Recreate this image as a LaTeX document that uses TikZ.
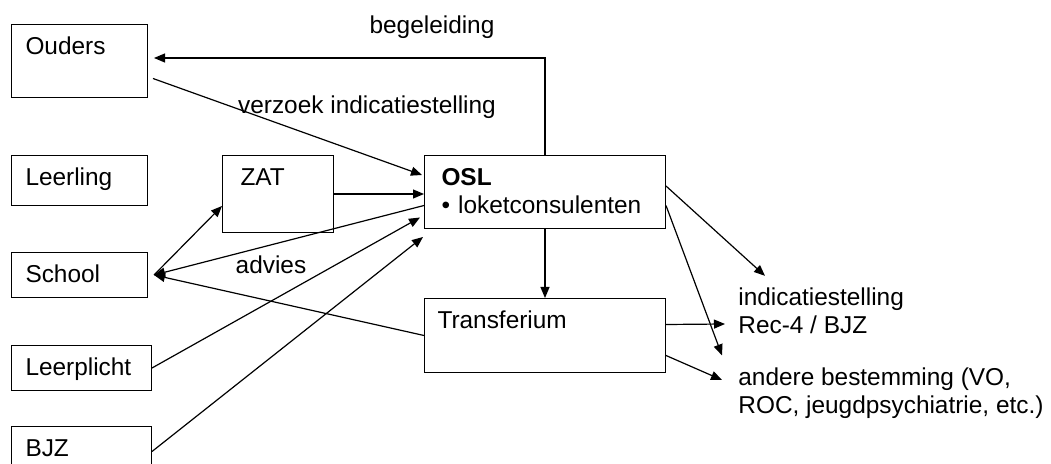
\documentclass[tikz,border=0pt]{standalone}
\usepackage{fontspec}
\setmainfont{Liberation Sans}
\usetikzlibrary{arrows.meta}

\tikzset{
  box/.style={draw, line width=0.5pt, anchor=north west, align=left,
    inner xsep=7pt, inner ysep=6pt, text height=9pt},
  lbl/.style={inner sep=0pt, align=left},
  arr/.style={line width=0.6pt, -{Triangle[length=5.5pt,width=4.5pt]}},
}

\begin{document}
\begin{tikzpicture}[x=1pt,y=1pt,font=\fontsize{12.2}{13.8}\selectfont]
\useasboundingbox (0,0) rectangle (525.5,-232);

% boxes on the left
\node[box, text width=54pt, text depth=15.5pt] (ouders) at (5.5,-12) {Ouders};
\node[box, text width=54pt, text depth=4pt] (leerling) at (5.5,-77.5) {Leerling};
\node[box, text width=54pt, text depth=1.5pt] (school) at (5.5,-126) {School};
\node[box, text width=56pt, text depth=1.5pt] (leerplicht) at (5.5,-172.5) {Leerplicht};
\node[box, text width=56pt, text depth=4pt] (bjz) at (5.5,-213) {BJZ};

% middle
\node[box, inner xsep=9pt, text width=37.5pt, text depth=17.5pt] (zat) at (111,-77.5) {ZAT};
\node[box, inner xsep=8.5pt, text width=103.5pt, text depth=15.5pt] (osl) at (212,-77.5) {{\bfseries OSL}\\ \textbullet{} loketconsulenten};
\node[box, inner xsep=6.5pt, text width=107.5pt, text depth=16pt] (transferium) at (212,-149) {Transferium};

% texts
\node[lbl] (begeleiding) at (216,-13.5) {begeleiding};
\node[lbl] (verzoek) at (183.5,-53.5) {verzoek indicatiestelling};
\node[lbl] (advies) at (135.5,-132.5) {advies};
\node[lbl, anchor=west] (ind) at (369,-155.5) {indicatiestelling\\Rec-4 / BJZ};
\node[lbl, anchor=west] (andere) at (369,-196.5) {andere bestemming (VO,\\ROC, jeugdpsychiatrie, etc.)};

\coordinate (ind-a) at ([xshift=13.5pt,yshift=6pt]ind.north west);
\coordinate (ind-b) at (362.5,-162);
\coordinate (andere-a) at ([xshift=-8pt,yshift=6pt]andere.north west);
\coordinate (andere-b) at ([xshift=-8pt,yshift=6.5pt]andere.west);

\draw[arr] (osl.north) |- ([xshift=3pt,yshift=1.5pt]ouders.east);
\draw[arr] ([xshift=2.5pt,yshift=-8.75pt]ouders.east) -- ([xshift=-1pt,yshift=8.5pt]osl.west);
\draw[arr] (zat.east) -- (zat.east -| osl.west);
\draw[arr] ([yshift=-6.75pt]osl.west) -- ([xshift=3pt]school.east);
\draw[arr] ([xshift=3pt]school.east) -- ([yshift=-6pt]zat.west);
\draw[arr] (leerplicht.east) -- ([xshift=-2pt,yshift=-12.75pt]osl.west);
\draw[arr] (bjz.east) -- ([xshift=-0.5pt,yshift=-4pt]osl.south west);
\draw[arr] (transferium.west) -- ([xshift=3pt]school.east);
\draw[arr] (osl.south) -- (transferium.north);
\draw[arr] ([yshift=3pt]osl.east) -- (ind-a);
\draw[arr] ([yshift=-6.75pt]osl.east) -- (andere-a);
\draw[arr] ([yshift=5.5pt]transferium.east) -- (ind-b);
\draw[arr] ([yshift=-10pt]transferium.east) -- (andere-b);
\end{tikzpicture}
\end{document}
